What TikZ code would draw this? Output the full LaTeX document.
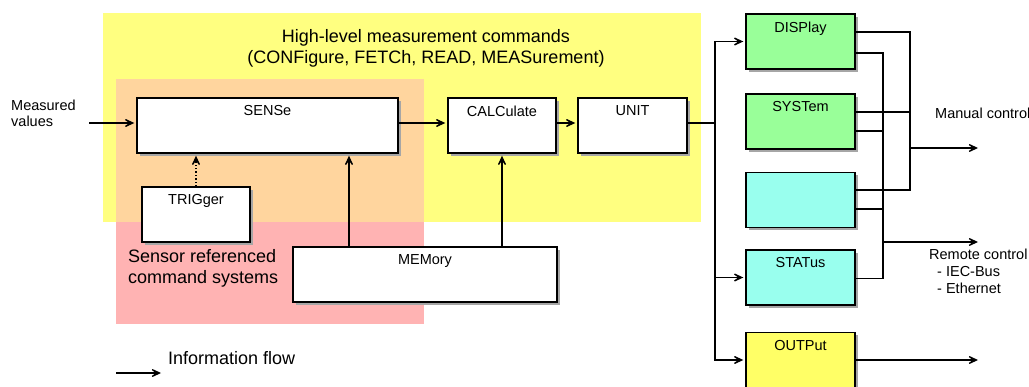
\documentclass[tikz,border=0pt]{standalone}
\usepackage{fontspec}
\setmainfont{Liberation Sans}
\usetikzlibrary{arrows.meta,shadows}

\definecolor{hlF}{HTML}{FFFF80}
\definecolor{senF}{HTML}{FFB3B3}
\definecolor{ovlF}{HTML}{FFD59E}
\definecolor{dispF}{HTML}{99FF99}
\definecolor{statF}{HTML}{99FFEE}
\definecolor{outF}{HTML}{FFFF66}

\newcommand\lblfont{\fontsize{14.5}{17}\selectfont}
\newcommand\hdrfont{\fontsize{18}{21}\selectfont}

\begin{document}
\begin{tikzpicture}[x=1pt, y=-1pt,
  blk/.style={draw, line width=1.4pt, minimum height=55pt, inner sep=0pt,
              drop shadow={shadow xshift=2.5pt, shadow yshift=-2.5pt, fill=black!35, opacity=1}},
  ttl/.style={anchor=north, yshift=-5pt, font=\lblfont},
  flow/.style={line width=1.4pt, -{Stealth[length=15pt, width=14pt, inset=10pt]}, shorten >=2pt},
  wire/.style={line width=1.4pt},
  txt/.style={inner sep=0pt, align=left},
]
\useasboundingbox (0,0) rectangle (1029,386);

% command-system areas (drawn first = behind)
\fill[hlF] (103,13) rectangle (701,222);
\fill[senF] (116,79) rectangle (424,324);
\fill[ovlF] (116,79) rectangle (424,222);

% area titles
\node[font=\hdrfont, inner sep=0pt, align=center, anchor=north] (hltitle) at (426,29.5)
  {High-level measurement commands\\(CONFigure, FETCh, READ, MEASurement)};
\node[txt, font=\hdrfont, anchor=north west] (senlbl) at (128,249) {Sensor referenced\\command systems};

% --- measurement chain ---
\node[blk, fill=white, minimum width=261pt, label={[ttl]north:SENSe}] (sense) at (267.5,125.5) {};
\node[blk, fill=white, minimum width=108pt, label={[ttl]north:TRIGger}] (trig) at (196,214.5) {};
\node[blk, fill=white, minimum width=264pt, label={[ttl]north:MEMory}] (mem) at (425,274.5) {};
\node[blk, fill=white, minimum width=108pt, label={[ttl]north:CALCulate}] (calc) at (502,125.5) {};
\node[blk, fill=white, minimum width=109pt, label={[ttl]north:UNIT}] (unit) at (632.5,125.5) {};

% --- output subsystems ---
\node[blk, fill=dispF, minimum width=109pt, label={[ttl]north:DISPlay}] (disp) at (800.5,41.5) {};
\node[blk, fill=dispF, minimum width=109pt, label={[ttl]north:SYSTem}] (syst) at (800.5,121.5) {};
\node[blk, fill=statF, minimum width=109pt] (intf) at (800.5,200) {};
\node[blk, fill=statF, minimum width=109pt, label={[ttl]north:STATus}] (stat) at (800.5,277.5) {};
\node[blk, fill=outF, minimum width=109pt, label={[ttl]north:OUTPut}] (outp) at (800.5,360) {};

% input
\node[txt, font={\fontsize{14.5}{15.5}\selectfont}, anchor=north west] (mvlbl) at (11,100) {Measured\\values};
\coordinate (mv) at (89,123);
\draw[flow] (mv) -- (mv -| sense.west);
\draw[flow] (mv -| sense.east) -- (mv -| calc.west);
\draw[flow] (mv -| calc.east) -- (mv -| unit.west);

% trigger and memory feeds
\draw[flow, dotted] (trig.north) -- (trig.north |- sense.south);
\draw[flow] ([xshift=-76pt]mem.north) -- ([xshift=-76pt]mem.north |- sense.south);
\draw[flow] (mem.north -| calc.south) -- (calc.south);

% distribution bus
\coordinate (bus) at (715,123);
\draw[wire] (mv -| unit.east) -- (bus);
\draw[flow] (bus) |- (disp.west);
\draw[flow] (bus) |- (stat.west);
\draw[flow] (bus) |- (outp.west);

% manual control
\coordinate (man) at (910,148);
\coordinate (manE) at (980,148);
\draw[wire] ([yshift=9.5pt]disp.east) -| (man);
\draw[wire] ([yshift=9.5pt]syst.east) -| (man);
\draw[wire] ([yshift=10pt]intf.east) -| (man);
\draw[flow] (man) -- (manE);
\node[txt, font=\lblfont, anchor=base west] (manlbl) at (935,118) {Manual control};

% remote control
\coordinate (rem) at (883,242);
\coordinate (remE) at (980,242);
\draw[wire] ([yshift=-11.5pt]disp.east) -| (rem);
\draw[wire] ([yshift=-9.5pt]syst.east) -| (rem);
\draw[wire] ([yshift=-9pt]intf.east) -| (rem);
\draw[wire] ([yshift=-1pt]stat.east) -| (rem);
\draw[flow] (rem) -- (remE);
\node[txt, font=\lblfont, anchor=north west] (remlbl) at (929,249)
  {Remote control\\\hspace*{8pt}- IEC-Bus\\\hspace*{8pt}- Ethernet};

\draw[flow] (outp.east) -- (outp.east -| remE);

% legend
\coordinate (legA) at (116,373);
\coordinate (legB) at (163,373);
\draw[flow] (legA) -- (legB);
\node[txt, font=\hdrfont, anchor=base west] (flowlbl) at (168,364) {Information flow};
\end{tikzpicture}
\end{document}
